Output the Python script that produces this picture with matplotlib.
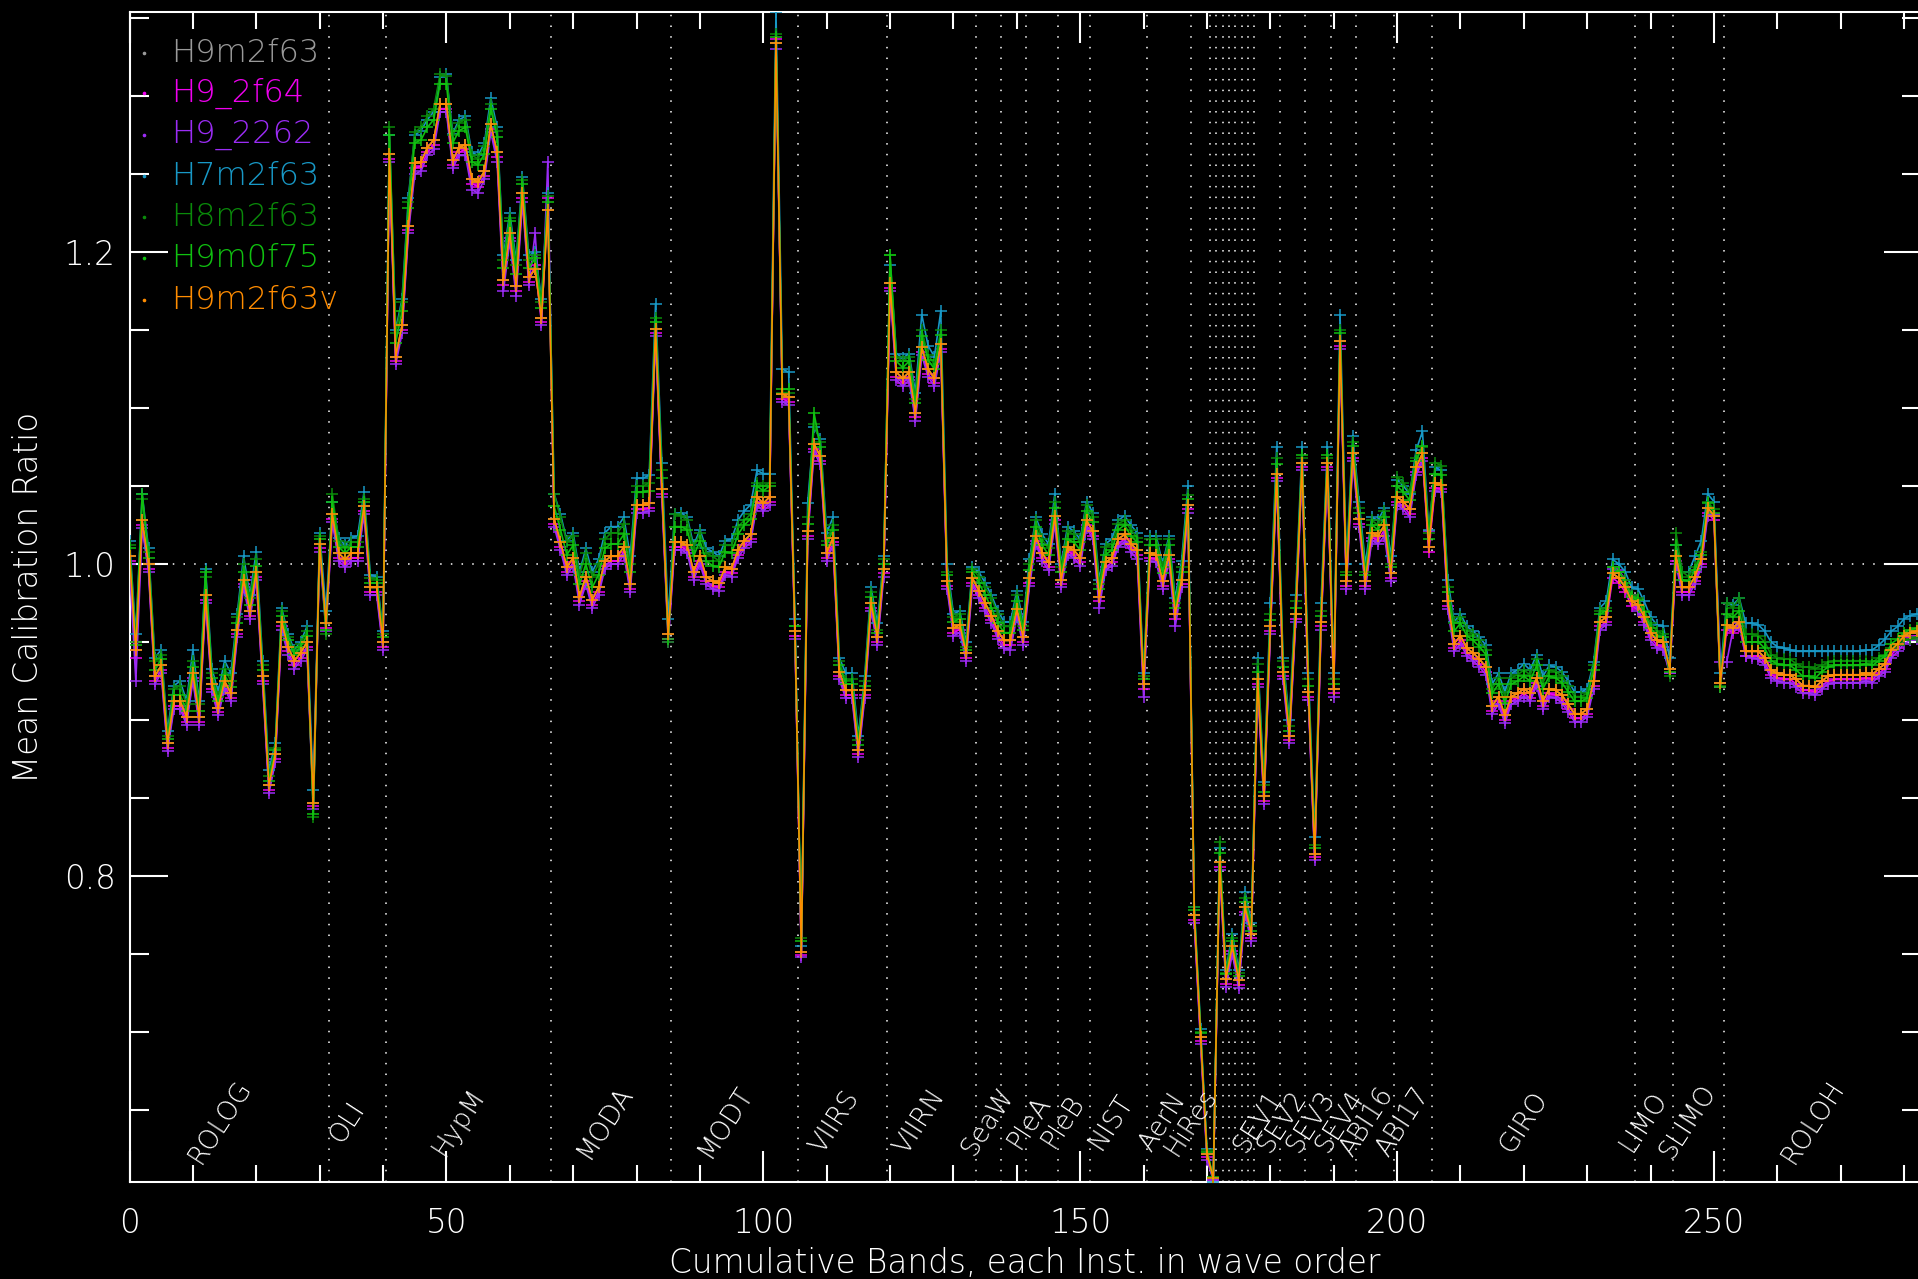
import matplotlib
matplotlib.use("Agg")
import matplotlib.pyplot as plt
from matplotlib.lines import Line2D
from matplotlib.ticker import MultipleLocator, FixedLocator, FixedFormatter
import numpy as np

plt.rcParams["font.family"] = ["DejaVu Sans"]
plt.rcParams["font.weight"] = "light"

# Mean calibration ratio per cumulative band (instruments in wave order)
H9M2F63V = [
    1.005, 0.945, 1.028, 1.000, 0.928, 0.935, 0.885, 0.912, 0.912, 0.902,
    0.930, 0.902, 0.980, 0.923, 0.908, 0.925, 0.917, 0.958, 0.990, 0.970,
    0.995, 0.928, 0.858, 0.878, 0.963, 0.947, 0.938, 0.943, 0.950, 0.847,
    1.013, 0.962, 1.032, 1.007, 1.003, 1.007, 1.007, 1.037, 0.985, 0.985,
    0.950, 1.263, 1.133, 1.153, 1.217, 1.257, 1.258, 1.267, 1.272, 1.295,
    1.295, 1.259, 1.267, 1.269, 1.247, 1.245, 1.252, 1.282, 1.264, 1.182,
    1.212, 1.178, 1.238, 1.184, 1.189, 1.158, 1.227, 1.029, 1.014, 0.998,
    1.004, 0.979, 0.992, 0.977, 0.985, 1.002, 1.005, 1.005, 1.011, 0.987,
    1.038, 1.038, 1.039, 1.151, 1.048, 0.955, 1.014, 1.014, 1.012, 0.995,
    1.005, 0.992, 0.989, 0.988, 0.998, 0.997, 1.009, 1.015, 1.019, 1.043,
    1.039, 1.043, 1.334, 1.109, 1.107, 0.957, 0.751, 1.021, 1.077, 1.069,
    1.007, 1.017, 0.931, 0.919, 0.919, 0.881, 0.919, 0.975, 0.953, 0.997,
    1.180, 1.123, 1.119, 1.123, 1.097, 1.139, 1.125, 1.119, 1.141, 0.989,
    0.959, 0.961, 0.943, 0.991, 0.983, 0.975, 0.967, 0.957, 0.951, 0.951,
    0.971, 0.953, 0.991, 1.018, 1.007, 1.001, 1.031, 0.990, 1.011, 1.009,
    1.004, 1.028, 1.021, 0.979, 1.001, 1.004, 1.016, 1.019, 1.013, 1.009,
    0.923, 1.007, 1.006, 0.989, 1.006, 0.968, 0.990, 1.038, 0.775, 0.697,
    0.622, 0.606, 0.809, 0.734, 0.755, 0.733, 0.780, 0.763, 0.926, 0.851,
    0.960, 1.058, 0.931, 0.890, 0.968, 1.065, 0.918, 0.814, 0.963, 1.065,
    0.920, 1.143, 0.989, 1.071, 1.029, 0.989, 1.020, 1.018, 1.025, 0.994,
    1.043, 1.040, 1.035, 1.062, 1.071, 1.011, 1.052, 1.051, 0.976, 0.949,
    0.954, 0.946, 0.943, 0.939, 0.934, 0.909, 0.915, 0.903, 0.915, 0.917,
    0.920, 0.917, 0.927, 0.912, 0.920, 0.919, 0.916, 0.910, 0.904, 0.904,
    0.907, 0.925, 0.963, 0.966, 0.994, 0.991, 0.985, 0.976, 0.974, 0.966,
    0.956, 0.951, 0.950, 0.933, 1.005, 0.985, 0.985, 0.992, 1.003, 1.036,
    1.031, 0.924, 0.961, 0.959, 0.963, 0.944, 0.944, 0.944, 0.940, 0.932,
    0.930, 0.929, 0.929, 0.926, 0.922, 0.922, 0.921, 0.925, 0.928, 0.929,
    0.929, 0.929, 0.929, 0.929, 0.930, 0.929, 0.933, 0.936, 0.945, 0.949,
    0.954, 0.956, 0.957,
]

# H9m2f63 coincides with H9m2f63v everywhere on this scale
H9M2F63 = list(H9M2F63V)

H9_2F64 = [
    1.002, 0.940, 1.025, 0.997, 0.925, 0.932, 0.882, 0.909, 0.909, 0.899,
    0.927, 0.899, 0.977, 0.920, 0.905, 0.922, 0.914, 0.955, 0.987, 0.967,
    0.992, 0.925, 0.855, 0.875, 0.960, 0.944, 0.935, 0.940, 0.947, 0.845,
    1.010, 0.959, 1.029, 1.004, 1.000, 1.004, 1.004, 1.034, 0.982, 0.982,
    0.947, 1.260, 1.130, 1.150, 1.214, 1.254, 1.255, 1.264, 1.269, 1.292,
    1.292, 1.256, 1.264, 1.266, 1.244, 1.242, 1.249, 1.279, 1.261, 1.179,
    1.209, 1.175, 1.235, 1.181, 1.192, 1.155, 1.235, 1.026, 1.011, 0.995,
    1.001, 0.976, 0.989, 0.974, 0.982, 0.999, 1.002, 1.002, 1.008, 0.984,
    1.035, 1.035, 1.036, 1.148, 1.045, 0.952, 1.011, 1.011, 1.009, 0.992,
    1.002, 0.989, 0.986, 0.985, 0.995, 0.994, 1.006, 1.012, 1.016, 1.040,
    1.036, 1.040, 1.337, 1.106, 1.104, 0.954, 0.749, 1.018, 1.074, 1.066,
    1.004, 1.014, 0.928, 0.916, 0.916, 0.878, 0.916, 0.972, 0.950, 0.994,
    1.177, 1.120, 1.116, 1.120, 1.094, 1.136, 1.122, 1.116, 1.138, 0.986,
    0.956, 0.958, 0.940, 0.988, 0.980, 0.972, 0.964, 0.954, 0.948, 0.948,
    0.968, 0.950, 0.988, 1.015, 1.004, 0.998, 1.028, 0.987, 1.008, 1.006,
    1.001, 1.025, 1.018, 0.976, 0.998, 1.001, 1.013, 1.016, 1.010, 1.006,
    0.920, 1.004, 1.003, 0.986, 1.003, 0.965, 0.987, 1.035, 0.772, 0.694,
    0.620, 0.605, 0.806, 0.731, 0.752, 0.730, 0.777, 0.760, 0.923, 0.848,
    0.957, 1.055, 0.928, 0.887, 0.965, 1.062, 0.915, 0.812, 0.960, 1.062,
    0.917, 1.140, 0.986, 1.068, 1.026, 0.986, 1.017, 1.015, 1.022, 0.991,
    1.040, 1.037, 1.032, 1.059, 1.068, 1.008, 1.049, 1.048, 0.973, 0.946,
    0.951, 0.943, 0.940, 0.936, 0.931, 0.906, 0.912, 0.900, 0.912, 0.914,
    0.917, 0.914, 0.924, 0.909, 0.917, 0.916, 0.913, 0.907, 0.901, 0.901,
    0.904, 0.922, 0.960, 0.963, 0.991, 0.988, 0.982, 0.973, 0.971, 0.963,
    0.953, 0.948, 0.947, 0.930, 1.002, 0.982, 0.982, 0.989, 1.000, 1.033,
    1.028, 0.921, 0.958, 0.956, 0.960, 0.941, 0.941, 0.941, 0.937, 0.929,
    0.927, 0.926, 0.926, 0.923, 0.919, 0.919, 0.918, 0.922, 0.925, 0.926,
    0.926, 0.926, 0.926, 0.926, 0.927, 0.926, 0.930, 0.933, 0.942, 0.946,
    0.951, 0.953, 0.954,
]

H9_2262 = [
    1.000, 0.925, 1.023, 0.995, 0.923, 0.930, 0.880, 0.907, 0.907, 0.897,
    0.925, 0.897, 0.975, 0.918, 0.903, 0.920, 0.912, 0.953, 0.985, 0.965,
    0.990, 0.923, 0.853, 0.873, 0.958, 0.942, 0.933, 0.938, 0.945, 0.843,
    1.008, 0.957, 1.027, 1.002, 0.998, 1.002, 1.002, 1.032, 0.980, 0.980,
    0.945, 1.258, 1.128, 1.148, 1.212, 1.250, 1.252, 1.262, 1.266, 1.290,
    1.290, 1.254, 1.262, 1.262, 1.240, 1.238, 1.247, 1.277, 1.258, 1.175,
    1.207, 1.172, 1.232, 1.179, 1.212, 1.153, 1.258, 1.024, 1.009, 0.993,
    0.999, 0.974, 0.987, 0.972, 0.980, 0.997, 1.000, 1.000, 1.006, 0.982,
    1.033, 1.033, 1.034, 1.146, 1.043, 0.950, 1.009, 1.009, 1.007, 0.990,
    1.000, 0.987, 0.984, 0.983, 0.993, 0.992, 1.004, 1.010, 1.014, 1.038,
    1.034, 1.038, 1.330, 1.104, 1.102, 0.952, 0.748, 1.016, 1.072, 1.064,
    1.002, 1.012, 0.926, 0.914, 0.914, 0.876, 0.914, 0.970, 0.948, 0.992,
    1.175, 1.118, 1.114, 1.118, 1.092, 1.134, 1.120, 1.114, 1.136, 0.984,
    0.954, 0.956, 0.938, 0.986, 0.978, 0.970, 0.962, 0.952, 0.946, 0.945,
    0.966, 0.948, 0.986, 1.013, 1.002, 0.996, 1.026, 0.985, 1.006, 1.004,
    0.999, 1.023, 1.016, 0.972, 0.996, 0.999, 1.011, 1.014, 1.008, 1.003,
    0.915, 1.002, 1.001, 0.984, 1.001, 0.960, 0.985, 1.033, 0.770, 0.692,
    0.618, 0.605, 0.804, 0.729, 0.750, 0.728, 0.775, 0.758, 0.921, 0.846,
    0.955, 1.053, 0.926, 0.885, 0.963, 1.060, 0.913, 0.810, 0.958, 1.060,
    0.915, 1.138, 0.984, 1.066, 1.024, 0.984, 1.015, 1.013, 1.018, 0.989,
    1.038, 1.035, 1.030, 1.057, 1.066, 1.021, 1.047, 1.046, 0.971, 0.944,
    0.949, 0.941, 0.938, 0.934, 0.929, 0.904, 0.910, 0.898, 0.910, 0.912,
    0.915, 0.912, 0.922, 0.907, 0.915, 0.914, 0.911, 0.905, 0.899, 0.899,
    0.902, 0.920, 0.958, 0.961, 0.997, 0.996, 0.990, 0.980, 0.970, 0.961,
    0.951, 0.946, 0.945, 0.930, 1.000, 0.980, 0.980, 0.987, 0.998, 1.031,
    1.032, 0.937, 0.937, 0.958, 0.962, 0.941, 0.940, 0.939, 0.935, 0.927,
    0.925, 0.924, 0.924, 0.921, 0.917, 0.917, 0.916, 0.920, 0.923, 0.924,
    0.924, 0.924, 0.924, 0.924, 0.925, 0.924, 0.928, 0.931, 0.940, 0.944,
    0.949, 0.951, 0.952,
]

H7M2F63 = [
    1.015, 0.955, 1.045, 1.010, 0.940, 0.945, 0.893, 0.922, 0.925, 0.912,
    0.945, 0.912, 0.997, 0.933, 0.918, 0.938, 0.930, 0.968, 1.005, 0.980,
    1.008, 0.938, 0.868, 0.885, 0.972, 0.955, 0.945, 0.950, 0.960, 0.855,
    1.020, 0.970, 1.040, 1.017, 1.012, 1.017, 1.018, 1.046, 0.993, 0.992,
    0.957, 1.275, 1.150, 1.170, 1.235, 1.275, 1.278, 1.285, 1.290, 1.312,
    1.314, 1.276, 1.285, 1.287, 1.264, 1.262, 1.270, 1.299, 1.280, 1.198,
    1.225, 1.195, 1.248, 1.198, 1.200, 1.170, 1.238, 1.045, 1.032, 1.015,
    1.020, 0.995, 1.010, 0.995, 1.003, 1.020, 1.024, 1.024, 1.030, 1.005,
    1.055, 1.055, 1.057, 1.167, 1.065, 0.965, 1.032, 1.033, 1.030, 1.012,
    1.022, 1.010, 1.008, 1.005, 1.015, 1.016, 1.028, 1.034, 1.038, 1.060,
    1.058, 1.058, 1.354, 1.125, 1.123, 0.965, 0.755, 1.039, 1.088, 1.080,
    1.020, 1.030, 0.940, 0.930, 0.930, 0.890, 0.928, 0.985, 0.962, 1.005,
    1.192, 1.135, 1.132, 1.135, 1.110, 1.160, 1.140, 1.133, 1.162, 1.000,
    0.968, 0.970, 0.950, 0.998, 0.995, 0.988, 0.980, 0.970, 0.963, 0.963,
    0.983, 0.963, 1.003, 1.030, 1.019, 1.013, 1.045, 1.000, 1.024, 1.021,
    1.016, 1.040, 1.033, 0.990, 1.013, 1.016, 1.028, 1.031, 1.025, 1.020,
    0.930, 1.018, 1.018, 1.000, 1.018, 0.978, 1.002, 1.050, 0.780, 0.702,
    0.625, 0.604, 0.818, 0.740, 0.763, 0.740, 0.790, 0.770, 0.940, 0.860,
    0.975, 1.075, 0.940, 0.900, 0.980, 1.075, 0.930, 0.825, 0.975, 1.075,
    0.930, 1.160, 1.000, 1.082, 1.040, 1.000, 1.030, 1.028, 1.036, 1.005,
    1.054, 1.050, 1.045, 1.073, 1.085, 1.022, 1.062, 1.060, 0.990, 0.963,
    0.968, 0.960, 0.957, 0.953, 0.948, 0.923, 0.930, 0.918, 0.930, 0.932,
    0.936, 0.932, 0.942, 0.928, 0.935, 0.934, 0.931, 0.925, 0.918, 0.918,
    0.920, 0.937, 0.972, 0.976, 1.003, 1.000, 0.995, 0.985, 0.984, 0.976,
    0.966, 0.961, 0.960, 0.940, 1.012, 0.995, 0.995, 1.005, 1.015, 1.045,
    1.040, 0.930, 0.975, 0.974, 0.978, 0.962, 0.962, 0.961, 0.957, 0.950,
    0.947, 0.946, 0.945, 0.944, 0.944, 0.944, 0.944, 0.944, 0.944, 0.944,
    0.944, 0.944, 0.944, 0.944, 0.945, 0.945, 0.948, 0.952, 0.957, 0.960,
    0.965, 0.967, 0.968,
]

H8M2F63 = [
    1.012, 0.950, 1.042, 1.008, 0.938, 0.942, 0.890, 0.920, 0.922, 0.910,
    0.938, 0.910, 0.992, 0.930, 0.915, 0.933, 0.925, 0.966, 1.000, 0.978,
    1.003, 0.935, 0.864, 0.882, 0.970, 0.953, 0.944, 0.949, 0.957, 0.838,
    1.018, 0.955, 1.045, 1.015, 1.010, 1.014, 1.014, 1.042, 0.991, 0.990,
    0.955, 1.280, 1.148, 1.168, 1.232, 1.277, 1.280, 1.287, 1.292, 1.314,
    1.313, 1.275, 1.283, 1.285, 1.262, 1.260, 1.268, 1.295, 1.278, 1.195,
    1.222, 1.192, 1.246, 1.195, 1.198, 1.168, 1.236, 1.045, 1.030, 1.014,
    1.018, 0.993, 1.007, 0.992, 1.000, 1.016, 1.020, 1.020, 1.026, 1.000,
    1.050, 1.050, 1.052, 1.158, 1.060, 0.950, 1.032, 1.031, 1.028, 1.010,
    1.020, 1.007, 1.005, 1.002, 1.012, 1.012, 1.024, 1.028, 1.032, 1.052,
    1.050, 1.052, 1.340, 1.110, 1.110, 0.960, 0.760, 1.030, 1.090, 1.078,
    1.015, 1.025, 0.938, 0.925, 0.926, 0.887, 0.925, 0.982, 0.958, 1.003,
    1.198, 1.133, 1.130, 1.133, 1.106, 1.150, 1.134, 1.128, 1.150, 0.995,
    0.966, 0.968, 0.947, 0.997, 0.992, 0.985, 0.978, 0.968, 0.960, 0.960,
    0.980, 0.960, 1.000, 1.028, 1.016, 1.010, 1.040, 0.998, 1.021, 1.019,
    1.014, 1.038, 1.030, 0.987, 1.011, 1.013, 1.026, 1.028, 1.022, 1.017,
    0.928, 1.016, 1.016, 0.998, 1.016, 0.975, 0.998, 1.044, 0.780, 0.700,
    0.624, 0.606, 0.822, 0.738, 0.760, 0.738, 0.786, 0.768, 0.936, 0.858,
    0.968, 1.068, 0.938, 0.896, 0.976, 1.068, 0.926, 0.820, 0.970, 1.068,
    0.926, 1.150, 0.995, 1.078, 1.036, 0.995, 1.028, 1.025, 1.034, 1.000,
    1.056, 1.052, 1.046, 1.068, 1.075, 1.020, 1.065, 1.063, 0.985, 0.962,
    0.966, 0.958, 0.955, 0.951, 0.945, 0.920, 0.927, 0.915, 0.927, 0.929,
    0.932, 0.929, 0.939, 0.924, 0.932, 0.931, 0.928, 0.922, 0.915, 0.915,
    0.917, 0.935, 0.970, 0.972, 0.998, 0.995, 0.990, 0.980, 0.978, 0.970,
    0.962, 0.957, 0.955, 0.928, 1.020, 0.995, 0.992, 0.998, 1.008, 1.040,
    1.035, 0.922, 0.975, 0.972, 0.978, 0.955, 0.955, 0.954, 0.950, 0.942,
    0.940, 0.939, 0.939, 0.936, 0.934, 0.934, 0.933, 0.935, 0.937, 0.938,
    0.938, 0.938, 0.938, 0.938, 0.938, 0.937, 0.940, 0.942, 0.946, 0.948,
    0.951, 0.952, 0.953,
]

H9M0F75 = [
    1.010, 0.948, 1.045, 1.004, 0.932, 0.939, 0.888, 0.916, 0.916, 0.906,
    0.934, 0.906, 0.995, 0.927, 0.912, 0.929, 0.921, 0.962, 0.995, 0.974,
    0.999, 0.932, 0.861, 0.881, 0.967, 0.951, 0.942, 0.947, 0.954, 0.840,
    1.016, 0.958, 1.040, 1.011, 1.007, 1.011, 1.011, 1.040, 0.988, 0.988,
    0.953, 1.275, 1.142, 1.162, 1.228, 1.270, 1.272, 1.280, 1.285, 1.308,
    1.308, 1.270, 1.278, 1.280, 1.258, 1.256, 1.263, 1.292, 1.274, 1.190,
    1.220, 1.186, 1.244, 1.190, 1.196, 1.164, 1.232, 1.037, 1.022, 1.006,
    1.012, 0.987, 1.000, 0.985, 0.993, 1.010, 1.013, 1.013, 1.019, 0.995,
    1.046, 1.046, 1.047, 1.155, 1.055, 0.952, 1.024, 1.024, 1.022, 1.005,
    1.015, 1.002, 0.999, 0.998, 1.008, 1.007, 1.019, 1.025, 1.029, 1.050,
    1.047, 1.050, 1.338, 1.112, 1.112, 0.960, 0.758, 1.026, 1.097, 1.075,
    1.012, 1.022, 0.935, 0.923, 0.923, 0.884, 0.922, 0.979, 0.956, 1.000,
    1.198, 1.130, 1.126, 1.130, 1.103, 1.146, 1.131, 1.125, 1.147, 0.993,
    0.963, 0.965, 0.945, 0.995, 0.988, 0.980, 0.972, 0.962, 0.956, 0.956,
    0.976, 0.958, 0.996, 1.024, 1.012, 1.006, 1.036, 0.995, 1.016, 1.014,
    1.009, 1.034, 1.027, 0.984, 1.006, 1.009, 1.022, 1.025, 1.018, 1.014,
    0.926, 1.012, 1.012, 0.994, 1.012, 0.972, 0.995, 1.042, 0.778, 0.699,
    0.623, 0.607, 0.815, 0.737, 0.758, 0.736, 0.783, 0.765, 0.931, 0.854,
    0.964, 1.064, 0.934, 0.893, 0.972, 1.070, 0.922, 0.818, 0.967, 1.070,
    0.923, 1.148, 0.993, 1.076, 1.033, 0.993, 1.025, 1.022, 1.030, 0.998,
    1.050, 1.046, 1.041, 1.066, 1.076, 1.016, 1.058, 1.057, 0.982, 0.957,
    0.962, 0.954, 0.951, 0.947, 0.942, 0.917, 0.923, 0.911, 0.923, 0.925,
    0.928, 0.925, 0.935, 0.920, 0.928, 0.927, 0.924, 0.918, 0.912, 0.912,
    0.914, 0.932, 0.968, 0.970, 0.998, 0.995, 0.988, 0.979, 0.977, 0.969,
    0.959, 0.954, 0.953, 0.931, 1.012, 0.990, 0.989, 0.996, 1.006, 1.039,
    1.033, 0.921, 0.968, 0.966, 0.970, 0.950, 0.950, 0.950, 0.946, 0.938,
    0.936, 0.935, 0.935, 0.932, 0.928, 0.928, 0.927, 0.931, 0.934, 0.935,
    0.935, 0.935, 0.935, 0.935, 0.936, 0.935, 0.938, 0.941, 0.949, 0.952,
    0.956, 0.958, 0.959,
]

SERIES_NAMES = ["H9m2f63", "H9_2f64", "H9_2262", "H7m2f63",
                "H8m2f63", "H9m0f75", "H9m2f63v"]
SERIES_VALUES = [H9M2F63, H9_2F64, H9_2262, H7M2F63,
                 H8M2F63, H9M0F75, H9M2F63V]
SERIES_COLORS = ["#9a9a9a", "#f000f0", "#9b2cf5", "#1898c6",
                 "#0a8a0a", "#10c010", "#ff8c00"]

# Instrument boundaries (between consecutive bands)
BOUNDARIES = [31.5, 40.5, 66.5, 85.5, 105.5, 119.5, 133.5, 137.5, 141.5,
              146.5, 151.5, 160.5, 167.5, 170.5, 171.5, 172.5, 173.5,
              174.5, 175.5, 176.5, 177.5, 181.5, 185.5, 189.5, 193.5,
              199.5, 205.5, 237.5, 243.5, 251.5]

INSTRUMENTS = ["ROLOG", "OLI", "HypM", "MODA", "MODT", "VIIRS", "VIIRN",
               "SeaW", "PleA", "PleB", "NIST", "AerN", "HiRes",
               "SEV1", "SEV2", "SEV3", "SEV4", "ABI16", "ABI17",
               "GIRO", "LIMO", "SLIMO", "ROLOH"]
INSTRUMENT_X = [14.3, 34.4, 51.9, 74.9, 94.0, 111.2, 124.7,
                135.5, 141.9, 147.3, 154.8, 162.9, 167.5,
                178.0, 181.8, 186.4, 190.9, 195.2, 200.9,
                220.0, 238.8, 245.9, 265.6]

W, H = 1918, 1279
fig = plt.figure(figsize=(W / 100, H / 100), dpi=100, facecolor="black")

left_px, right_px, top_px, bottom_px = 129.5, 1921.0, 12.0, 1181.6
ax = fig.add_axes([left_px / W, 1 - bottom_px / H,
                   (right_px - left_px) / W, (bottom_px - top_px) / H])
ax.set_facecolor("black")

XMAX = (right_px - left_px) / 6.338
ax.set_xlim(0, XMAX)
ax.set_ylim(0.604, 1.354)

dot_style = dict(color="white", lw=1.1, linestyle=(0, (1, 6)),
                 dash_capstyle="butt", zorder=1)
for b in BOUNDARIES:
    ax.axvline(b, **dot_style)
ax.axhline(1.0, **dot_style)

for name, vals, col in zip(SERIES_NAMES, SERIES_VALUES, SERIES_COLORS):
    x = np.arange(len(vals))
    ax.plot(x, vals, color=col, lw=1.2, marker="+", ms=8.5, mew=1.1,
            zorder=3)

# axes frame and ticks
for s in ax.spines.values():
    s.set_color("white")
    s.set_linewidth(1.5)

ax.xaxis.set_major_locator(MultipleLocator(50))
ax.xaxis.set_minor_locator(MultipleLocator(10))
ax.yaxis.set_major_locator(FixedLocator([0.8, 1.0, 1.2]))
ax.yaxis.set_major_formatter(FixedFormatter(["0.8", "1.0", "1.2"]))
ax.yaxis.set_minor_locator(MultipleLocator(0.05))

ax.tick_params(axis="x", which="major", direction="in", length=22,
               width=1.5, color="white", top=True, bottom=True,
               labelcolor="white", labelsize=23.5, pad=18)
ax.tick_params(axis="x", which="minor", direction="in", length=12,
               width=1.5, color="white", top=True, bottom=True)
ax.tick_params(axis="y", which="major", direction="in", length=27,
               width=1.5, color="white", left=True, right=True,
               labelcolor="white", labelsize=23.5, pad=10)
ax.tick_params(axis="y", which="minor", direction="in", length=13.5,
               width=1.5, color="white", left=True, right=True)

fig.text(1025 / W, 1 - 1263.6 / H, "Cumulative Bands, each Inst. in wave order",
         color="white", fontsize=23.5, ha="center", va="center")
fig.text(29 / W, 1 - 597 / H, "Mean Calibration Ratio", color="white",
         fontsize=23.5, ha="center", va="center", rotation=90)

# instrument names along the bottom
for name, xc in zip(INSTRUMENTS, INSTRUMENT_X):
    ax.text(xc, 0.6425, name, color="white", fontsize=19, rotation=57,
            rotation_mode="anchor", ha="center", va="center", zorder=4)

# legend: colored names with a small dot
legend_y = [52.6, 93.0, 134.5, 176.0, 216.5, 258.0, 299.7]
for name, col, yp in zip(SERIES_NAMES, SERIES_COLORS, legend_y):
    fig.text(171 / W, 1 - yp / H, name, color=col, fontsize=23,
             ha="left", va="center")
    fig.add_artist(Line2D([144 / W], [1 - yp / H], marker="o", ms=1.6,
                          color=col, transform=fig.transFigure))

fig.savefig("out.png", dpi=100, facecolor="black")
